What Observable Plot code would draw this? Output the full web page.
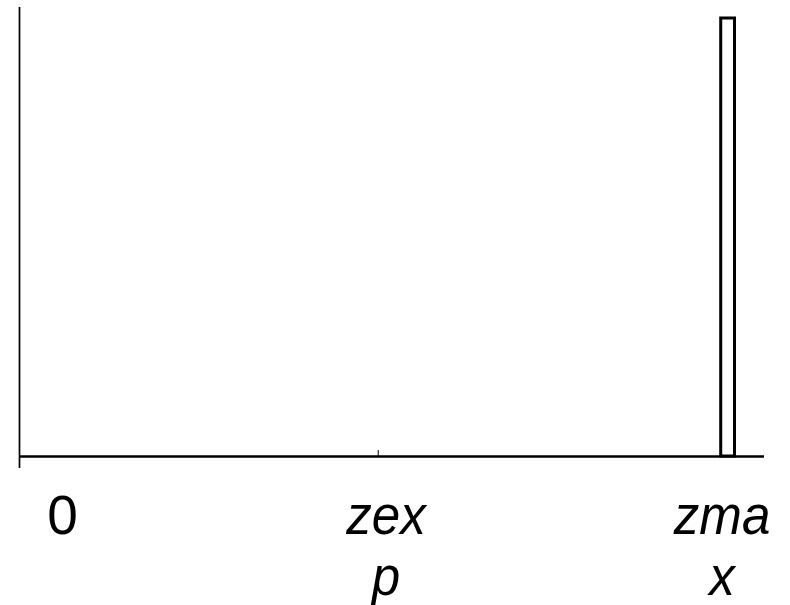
<!DOCTYPE html>
<html><head><meta charset="utf-8">
<script src="https://cdn.jsdelivr.net/npm/d3@7"></script>
<script src="https://cdn.jsdelivr.net/npm/@observablehq/plot@0.6"></script>
<style>body{margin:0;background:#fff}</style>
</head><body><div id="chart"></div>
<script>
// Axis extents (data units)
const xDomain = [0, 100];
const yDomain = [0, 1];
// The single bar
const barStart = [94.19];
const barEnd = [96.04];
const barHeight = [0.9755];
// Tick on the x axis (zexp)
const tickPositions = [48.15];
const tickLength = [0.0134];
// Labels under the axis
const labelNames = ["0", "zexp", "zmax"];
const labelPositions = [5.77, 49.2, 94.3];
const labelItalic = [false, true, true];
const labelLevel = -0.0757;
const yAxisBottom = -0.0267;

const labels = labelNames.map((name, i) => ({name, x: labelPositions[i], italic: labelItalic[i]}));
const wrap = s => s.length > 3 ? s.slice(0, 3) + "\n" + s.slice(3) : s;
const bars = barStart.map((s, i) => ({x1: s, x2: barEnd[i], h: barHeight[i]}));

const textOpts = {
  x: "x", y: () => labelLevel, text: d => wrap(d.name),
  lineAnchor: "top", textAnchor: "middle", fontSize: 55, lineHeight: 1.11,
  fontFamily: "Liberation Sans, Arial, sans-serif", fill: "black"
};

const chart = Plot.plot({
  width: 790, height: 605,
  marginLeft: 19, marginRight: 26, marginTop: 7, marginBottom: 149,
  x: {domain: xDomain, axis: null},
  y: {domain: yDomain, axis: null},
  style: {background: "white", overflow: "visible"},
  marks: [
    Plot.ruleX([xDomain[0]], {y1: yAxisBottom, y2: yDomain[1], stroke: "black", strokeWidth: 1.7}),
    Plot.ruleY([0], {x1: xDomain[0], x2: xDomain[1], stroke: "black", strokeWidth: 2.6}),
    Plot.ruleX(tickPositions, {y1: 0, y2: (d, i) => tickLength[i], stroke: "black", strokeWidth: 1}),
    Plot.rect(bars, {x1: "x1", x2: "x2", y1: 0, y2: "h", fill: "white", stroke: "black", strokeWidth: 3}),
    Plot.text(labels.filter(d => !d.italic), {...textOpts}),
    Plot.text(labels.filter(d => d.italic), {...textOpts, fontStyle: "italic"})
  ]
});
// narrow the italic labels slightly, as in the reference typeface
const textGroups = chart.querySelectorAll('g[aria-label="text"]');
const italicGroup = textGroups[textGroups.length - 1];
italicGroup.querySelectorAll("text").forEach(t => {
  const tr = t.getAttribute("transform") || "";
  t.setAttribute("transform", tr + " scale(0.93,1)");
});
document.getElementById("chart").appendChild(chart);
</script>
</body></html>
